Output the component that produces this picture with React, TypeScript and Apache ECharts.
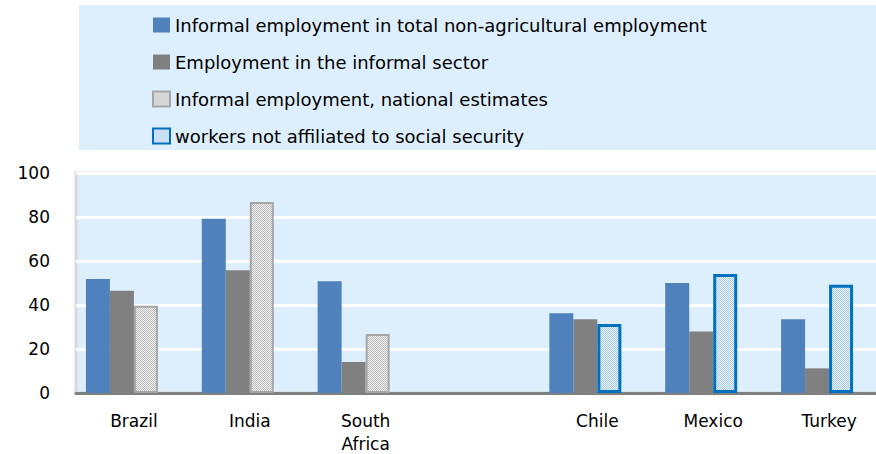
import React, { useEffect, useRef } from "react";
import * as echarts from "echarts";

const categories = ["Brazil", "India", "South\nAfrica", "", "Chile", "Mexico", "Turkey"];
const seriesNames = [
  "Informal employment in total non-agricultural employment",
  "Employment in the informal sector",
  "Informal employment, national estimates",
  "workers not affiliated to social security",
];
const informalTotal = [51.8, 79.2, 50.8, "-", 36.2, 50.0, 33.5];
const informalSector = [46.5, 55.8, 14.1, "-", 33.5, 27.9, 11.2];
const nationalEstimates = [39.7, 86.8, 26.8, "-", "-", "-", "-"];
const notAffiliated = ["-", "-", "-", "-", 31.4, 54.1, 49.2];
const padding = ["-", "-", "-", "-", "-", "-", "-"];
const yTicks = { min: 0, max: 100, interval: 20 };

function makePattern(a: string, b: string) {
  const c = document.createElement("canvas");
  c.width = 2;
  c.height = 2;
  const ctx = c.getContext("2d")!;
  ctx.fillStyle = a;
  ctx.fillRect(0, 0, 2, 2);
  ctx.fillStyle = b;
  ctx.fillRect(0, 0, 1, 1);
  ctx.fillRect(1, 1, 1, 1);
  return c;
}

export default function App() {
  const ref = useRef<HTMLDivElement>(null);
  useEffect(() => {
    document.body.style.margin = "0";
    const chart = echarts.init(ref.current!, null, { renderer: "svg" });
    const grayPat = makePattern("#F4F4F4", "#B8B8B8");
    const bluePat = makePattern("#EAF3FB", "#A9CBEA");
    const font = "DejaVu Sans";
    chart.setOption({
      animation: false,
      textStyle: { fontFamily: font },
      graphic: [
        {
          type: "rect",
          shape: { x: 79, y: 5, width: 797, height: 145 },
          style: { fill: "#DDEFFC" },
          z: -10,
          silent: true,
        },
      ],
      legend: {
        orient: "vertical",
        left: 147,
        top: 11,
        itemWidth: 17,
        itemHeight: 15,
        itemGap: 19,
        icon: "rect",
        data: seriesNames,
        textStyle: { fontFamily: font, fontSize: 18, color: "#000" },
      },
      grid: {
        left: 76,
        top: 173,
        width: 811,
        bottom: 61,
        outerBoundsMode: "none",
        containLabel: false,
        show: true,
        backgroundColor: "#DDEFFC",
        borderColor: "#D9D9D9",
        borderWidth: 3,
      },
      xAxis: {
        type: "category",
        data: categories,
        axisLine: { lineStyle: { color: "#808080", width: 3 } },
        axisTick: { show: false },
        axisLabel: {
          fontFamily: font,
          fontSize: 17,
          lineHeight: 23,
          color: "#000",
          margin: 16,
          interval: 0,
        },
      },
      yAxis: {
        type: "value",
        min: yTicks.min,
        max: yTicks.max,
        interval: yTicks.interval,
        axisLine: { show: false },
        axisTick: { show: false },
        splitLine: { lineStyle: { color: "#FFFFFF", width: 3 } },
        axisLabel: { fontFamily: font, fontSize: 17, color: "#000", margin: 26 },
      },
      series: [
        {
          name: seriesNames[0],
          type: "bar",
          data: informalTotal,
          barWidth: 24,
          barGap: "0%",
          itemStyle: { color: "#4F81BD" },
        },
        {
          name: seriesNames[1],
          type: "bar",
          data: informalSector,
          barWidth: 24,
          barGap: "0%",
          itemStyle: { color: "#808080" },
        },
        {
          name: seriesNames[2],
          type: "bar",
          stack: "est",
          data: nationalEstimates,
          barWidth: 24,
          barGap: "0%",
          itemStyle: {
            color: { image: grayPat, repeat: "repeat" },
            borderColor: "#A6A6A6",
            borderWidth: 2,
          },
        },
        {
          name: seriesNames[3],
          type: "bar",
          stack: "est",
          data: notAffiliated,
          barWidth: 24,
          barGap: "0%",
          itemStyle: {
            color: { image: bluePat, repeat: "repeat" },
            borderColor: "#0070C0",
            borderWidth: 3,
          },
        },
        {
          name: "_pad",
          type: "bar",
          data: padding,
          barWidth: 24,
          barGap: "0%",
          silent: true,
        },
      ],
    });
    return () => chart.dispose();
  }, []);
  return (
    <div
      ref={ref}
      style={{ position: "absolute", left: 0, top: 0, width: 876, height: 454 }}
    />
  );
}
